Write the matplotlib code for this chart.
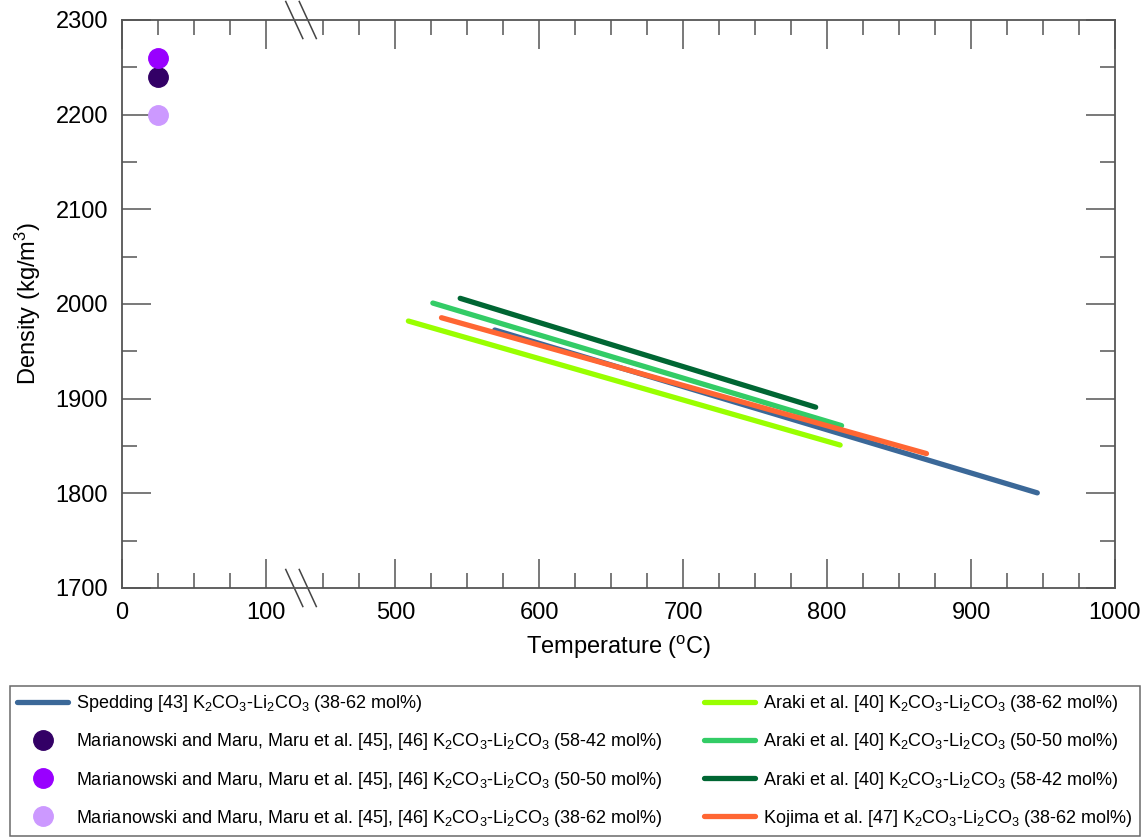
import numpy as np
import matplotlib
matplotlib.use('Agg')
import matplotlib.pyplot as plt
from matplotlib import font_manager
from matplotlib.ticker import FixedLocator, NullFormatter

plt.rcParams['font.family'] = ['Liberation Sans', 'DejaVu Sans']
plt.rcParams['mathtext.default'] = 'regular'

# single points measured at room temperature (Marianowski and Maru)
pt_temp = [25, 25, 25]
pt_dens = [2240, 2260, 2200]
pt_labels = ['58-42', '50-50', '38-62']
pt_colors = ['#330066', '#9900ff', '#cc99ff']

# linear fits: (T start, T end), (rho start, rho end)
spedding_t = [569, 946]
spedding_d = [1972.5, 1800.5]
araki_38_t = [509, 809]
araki_38_d = [1982, 1851]
araki_50_t = [526, 810]
araki_50_d = [2001, 1871.5]
araki_58_t = [545, 792]
araki_58_d = [2006, 1891]
kojima_t = [532, 869]
kojima_d = [1985.5, 1842]

major_x = [0, 100, 500, 600, 700, 800, 900, 1000]
minor_x = [25, 50, 75, 450, 475, 525, 550, 575, 625, 650, 675, 725, 750, 775,
           825, 850, 875, 925, 950, 975]

BREAK_LO, BREAK_HI = 125, 435
GAP = BREAK_HI - BREAK_LO


def fwd(x):
    x = np.asarray(x, dtype=float)
    return np.where(x <= BREAK_LO, x, np.where(x >= BREAK_HI, x - GAP, BREAK_LO))


def inv(y):
    y = np.asarray(y, dtype=float)
    return np.where(y <= BREAK_LO, y, y + GAP)


def main():
    fig = plt.figure(figsize=(11.48, 8.39), dpi=100)
    ax = fig.add_axes([122 / 1148, 1 - 588 / 839, 993 / 1148, 568 / 839])
    ax.set_xscale('function', functions=(fwd, inv))

    sub = 'K$_2$CO$_3$-Li$_2$CO$_3$'
    lw = 3.8
    spec = [
        (spedding_t, spedding_d, '#3b6898', f'Spedding [43] {sub} (38-62 mol%)'),
        (araki_38_t, araki_38_d, '#99ff00', f'Araki et al. [40] {sub} (38-62 mol%)'),
        (araki_50_t, araki_50_d, '#33cc66', f'Araki et al. [40] {sub} (50-50 mol%)'),
        (araki_58_t, araki_58_d, '#006633', f'Araki et al. [40] {sub} (58-42 mol%)'),
        (kojima_t, kojima_d, '#ff6633', f'Kojima et al. [47] {sub} (38-62 mol%)'),
    ]
    line_handles = []
    for t, d, c, lab in spec:
        h, = ax.plot(t, d, color=c, lw=lw, solid_capstyle='round', label=lab)
        line_handles.append(h)

    pt_handles = []
    for t, d, c, comp in zip(pt_temp, pt_dens, pt_colors, pt_labels):
        h, = ax.plot([t], [d], 'o', color=c, markersize=14, ls='none',
                     label=f'Marianowski and Maru, Maru et al. [45], [46] {sub} ({comp} mol%)')
        pt_handles.append(h)

    ax.set_xlim(0, 1000)
    ax.set_ylim(1700, 2300)
    ax.xaxis.set_major_locator(FixedLocator(major_x))
    ax.xaxis.set_minor_locator(FixedLocator(minor_x))
    ax.xaxis.set_minor_formatter(NullFormatter())
    ax.set_xticklabels([str(v) for v in major_x])
    ax.set_yticks(np.arange(1700, 2301, 100))
    ax.set_yticks(np.arange(1750, 2300, 100), minor=True)

    tick_col = '#555555'
    ax.tick_params(which='major', direction='in', length=21, width=1.1, color=tick_col,
                   top=True, right=True, labelsize=17, pad=10, labelcolor='black')
    ax.tick_params(which='minor', direction='in', length=10.5, width=1.1, color=tick_col,
                   top=True, right=True)
    for s in ax.spines.values():
        s.set_color(tick_col)
        s.set_linewidth(1.3)

    ax.set_xlabel('Temperature ($^{o}$C)', fontsize=17, labelpad=7)
    ax.set_ylabel('Density (kg/m$^3$)', fontsize=17, labelpad=9)

    # axis break marks
    dx, dy = 0.0086, 0.0326
    for cx in (0.1735, 0.1871):
        for yb in (0, 1):
            ax.plot([cx - dx, cx + dx], [yb + dy, yb - dy], color='#444444', lw=1.1,
                    transform=ax.transAxes, clip_on=False)

    # legend font: narrow if available
    try:
        font_manager.findfont('Liberation Sans Narrow', fallback_to_default=False)
        leg_prop = font_manager.FontProperties(family='Liberation Sans Narrow', size=17)
    except ValueError:
        leg_prop = font_manager.FontProperties(family='Liberation Sans', size=13)

    handles = [line_handles[0]] + pt_handles + line_handles[1:]
    labels = [h.get_label() for h in handles]
    leg = fig.legend(handles, labels, ncol=2, loc='upper left', mode='expand',
                     bbox_to_anchor=(10 / 1148, 1 - 837 / 839, 1130 / 1148, 151 / 839),
                     borderaxespad=0, prop=leg_prop, handlelength=2.8, handletextpad=0.45,
                     labelspacing=0.95, borderpad=0.4, fancybox=False, frameon=True)
    leg.get_frame().set_edgecolor('#444444')
    leg.get_frame().set_linewidth(1.1)

    fig.savefig('out.png', dpi=100)


if __name__ == '__main__':
    main()
